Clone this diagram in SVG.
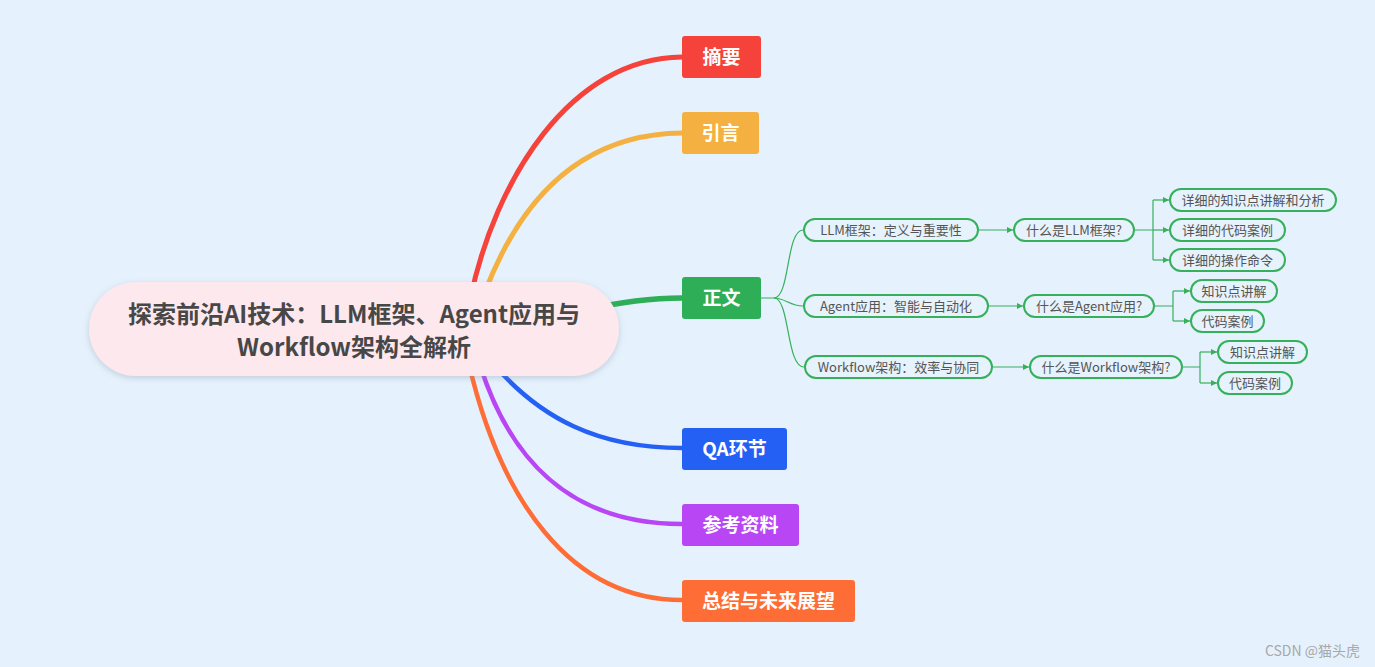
<svg xmlns="http://www.w3.org/2000/svg" width="1375" height="667" viewBox="0 0 1375 667">
<style>
.main{fill:none;stroke-linecap:round}
.thin{fill:none;stroke:#36b05a;stroke-width:1.2}
.pill{fill:#e6f2fc;stroke:#36b05a;stroke-width:2}
.pt{font-family:"Noto Sans CJK SC","Noto Sans",sans-serif;font-size:13px;fill:#555;text-anchor:middle}
.bt{font-family:"Noto Sans CJK SC","Noto Sans",sans-serif;font-size:19px;font-weight:bold;fill:#fff;text-anchor:middle}
.ct{font-family:"Noto Sans CJK SC","Noto Sans",sans-serif;font-size:24px;font-weight:bold;fill:#474747;text-anchor:middle}
</style>
<defs>
<marker id="ah" viewBox="0 0 10 10" refX="10" refY="5" markerWidth="6" markerHeight="6" orient="auto" markerUnits="userSpaceOnUse"><path d="M0,0 L10,5 L0,10 z" fill="#36b05a"/></marker>
<filter id="sh" x="-10%" y="-20%" width="120%" height="150%"><feDropShadow dx="0" dy="2" stdDeviation="3" flood-color="#7a8aa0" flood-opacity="0.35"/></filter>
</defs>
<rect width="1375" height="667" fill="#e5f1fc"/>
<g id="connectors">
<path class="main" stroke="#f5423a" stroke-width="5" d="M470 300 C495 180,570 58,682 57"/>
<path class="main" stroke="#f4b142" stroke-width="5" d="M485 292 C520 200,580 134,682 133"/>
<path class="main" stroke="#2eae57" stroke-width="5.5" d="M585 310 C620 302,650 298,682 298"/>
<path class="main" stroke="#2560f5" stroke-width="4.5" d="M490 360 C540 420,600 448,682 448"/>
<path class="main" stroke="#b846f5" stroke-width="4.5" d="M480 365 C510 460,570 524,682 524"/>
<path class="main" stroke="#ff6d37" stroke-width="4.5" d="M468 360 C500 500,570 600,682 600"/>
<path class="thin" d="M761 298 L774 298 C790 298,786 230,803 230"/>
<path class="thin" d="M774 298 C785 298,790 306,803 306"/>
<path class="thin" d="M774 298 C790 298,786 367,804 367"/>
<path class="thin" marker-end="url(#ah)" d="M979 230 L1013 230"/>
<path class="thin" marker-end="url(#ah)" d="M989 306 L1023 306"/>
<path class="thin" marker-end="url(#ah)" d="M993 367 L1029 367"/>
<path class="thin" d="M1135 230 L1153 230 M1153 200 L1153 260"/>
<path class="thin" marker-end="url(#ah)" d="M1153 200 L1169 200"/>
<path class="thin" marker-end="url(#ah)" d="M1153 230 L1169 230"/>
<path class="thin" marker-end="url(#ah)" d="M1153 260 L1169 260"/>
<path class="thin" d="M1155 306 L1173 306 M1173 291 L1173 321"/>
<path class="thin" marker-end="url(#ah)" d="M1173 291 L1190 291"/>
<path class="thin" marker-end="url(#ah)" d="M1173 321 L1190 321"/>
<path class="thin" d="M1183 367 L1200 367 M1200 352 L1200 383"/>
<path class="thin" marker-end="url(#ah)" d="M1200 352 L1217 352"/>
<path class="thin" marker-end="url(#ah)" d="M1200 383 L1217 383"/>
</g>
<g id="root">
<rect x="89" y="282" width="530" height="94" rx="47" fill="#fde8ee" filter="url(#sh)"/>
<text class="ct" x="354" y="323">探索前沿AI技术：LLM框架、Agent应用与</text>
<text class="ct" x="354" y="356">Workflow架构全解析</text>
</g>
<g id="n-zhaiyao"><rect x="682" y="36" width="79" height="42" rx="3" fill="#f5423a"/><text class="bt" x="721.5" y="64">摘要</text></g>
<g id="n-yinyan"><rect x="682" y="112" width="77" height="42" rx="3" fill="#f4b142"/><text class="bt" x="720.5" y="140">引言</text></g>
<g id="n-zhengwen"><rect x="682" y="277" width="79" height="42" rx="3" fill="#2eae57"/><text class="bt" x="721.5" y="305">正文</text></g>
<g id="n-qa"><rect x="682" y="428" width="105" height="42" rx="3" fill="#2560f5"/><text class="bt" x="734.5" y="456">QA环节</text></g>
<g id="n-ref"><rect x="682" y="504" width="117" height="42" rx="3" fill="#b846f5"/><text class="bt" x="740.5" y="532">参考资料</text></g>
<g id="n-sum"><rect x="682" y="580" width="173" height="42" rx="3" fill="#ff6d37"/><text class="bt" x="768.5" y="608">总结与未来展望</text></g>
<g id="n-llm"><rect class="pill" x="804" y="219" width="174" height="22" rx="11"/><text class="pt" x="891" y="235">LLM框架：定义与重要性</text></g>
<g id="n-llm-q"><rect class="pill" x="1014" y="219" width="120" height="22" rx="11"/><text class="pt" x="1074" y="235">什么是LLM框架?</text></g>
<g id="n-llm-1"><rect class="pill" x="1170" y="189" width="166" height="22" rx="11"/><text class="pt" x="1253" y="205">详细的知识点讲解和分析</text></g>
<g id="n-llm-2"><rect class="pill" x="1170" y="219" width="115" height="22" rx="11"/><text class="pt" x="1227.5" y="235">详细的代码案例</text></g>
<g id="n-llm-3"><rect class="pill" x="1170" y="249" width="115" height="22" rx="11"/><text class="pt" x="1227.5" y="265">详细的操作命令</text></g>
<g id="n-agent"><rect class="pill" x="804" y="295" width="184" height="22" rx="11"/><text class="pt" x="896" y="311">Agent应用：智能与自动化</text></g>
<g id="n-agent-q"><rect class="pill" x="1024" y="295" width="130" height="22" rx="11"/><text class="pt" x="1089" y="311">什么是Agent应用?</text></g>
<g id="n-agent-1"><rect class="pill" x="1191" y="280" width="86" height="22" rx="11"/><text class="pt" x="1234" y="296">知识点讲解</text></g>
<g id="n-agent-2"><rect class="pill" x="1191" y="310" width="73" height="22" rx="11"/><text class="pt" x="1227.5" y="326">代码案例</text></g>
<g id="n-wf"><rect class="pill" x="805" y="356" width="187" height="22" rx="11"/><text class="pt" x="898.5" y="372">Workflow架构：效率与协同</text></g>
<g id="n-wf-q"><rect class="pill" x="1030" y="356" width="152" height="22" rx="11"/><text class="pt" x="1106" y="372">什么是Workflow架构?</text></g>
<g id="n-wf-1"><rect class="pill" x="1218" y="341" width="89" height="22" rx="11"/><text class="pt" x="1262.5" y="357">知识点讲解</text></g>
<g id="n-wf-2"><rect class="pill" x="1218" y="372" width="74" height="22" rx="11"/><text class="pt" x="1255" y="388">代码案例</text></g>
<text x="1360" y="656" font-family="'Noto Sans CJK SC','Noto Sans',sans-serif" font-size="14" fill="#a8a8a8" text-anchor="end">CSDN @猫头虎</text>
</svg>
